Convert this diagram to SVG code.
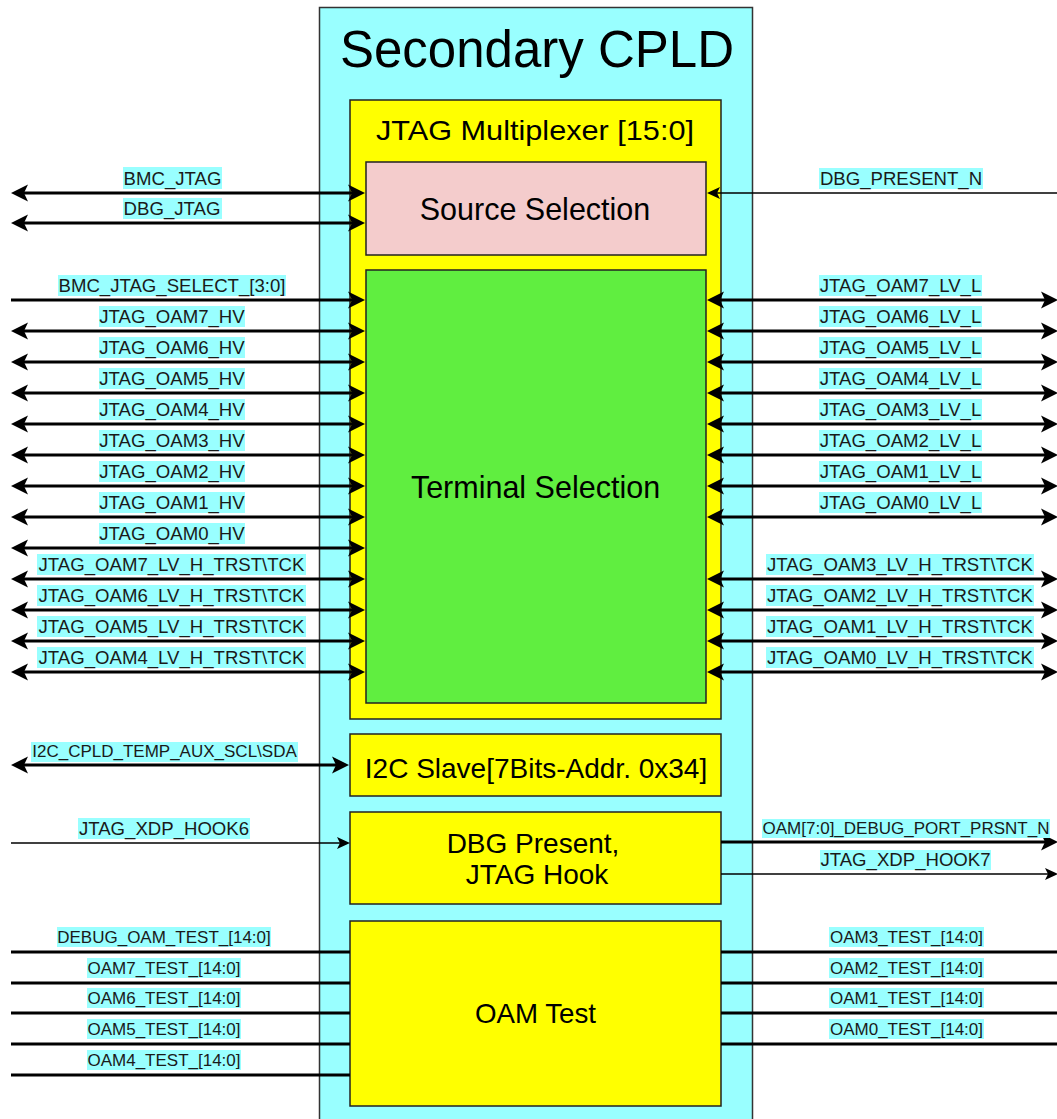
<svg xmlns="http://www.w3.org/2000/svg" width="1057" height="1119" viewBox="0 0 1057 1119">
<style>
.box{stroke:#222;stroke-width:1.5}
.cpld{fill:#99ffff;stroke:#333;stroke-width:1.5}
.yel{fill:#ffff00}
.pink{fill:#f4cccc}
.green{fill:#60ee40}
.nt{font-family:"Liberation Sans",Arial,sans-serif;fill:#000;text-anchor:middle}
.w3{stroke:#000;stroke-width:3;fill:none}
.w1{stroke:#000;stroke-width:1.5;fill:none}
.bg{fill:#99ffff}
.l18{font-family:"Liberation Sans",Arial,sans-serif;font-size:18.6px;fill:#1a1a1a;text-anchor:middle}
.l17{font-family:"Liberation Sans",Arial,sans-serif;font-size:17px;fill:#1a1a1a;text-anchor:middle}
.bi{marker-start:url(#ah);marker-end:url(#ah)}
.to{marker-end:url(#ah)}
.tos{marker-end:url(#as)}
</style>
<defs>
<marker id="ah" markerUnits="userSpaceOnUse" viewBox="0 0 17 17" markerWidth="17" markerHeight="17" refX="4" refY="8.5" orient="auto-start-reverse" overflow="visible"><path d="M17,8.5 L0,0 L4,8.5 L0,17 Z" fill="#000"/></marker>
<marker id="as" markerUnits="userSpaceOnUse" viewBox="0 0 13 12" markerWidth="13" markerHeight="12" refX="3" refY="6" orient="auto-start-reverse" overflow="visible"><path d="M13,6 L0,0 L3,6 L0,12 Z" fill="#000"/></marker>
</defs>
<g id="cpld">
<rect class="cpld" x="319.5" y="7.5" width="433" height="1125"/>
<text class="nt" x="537" y="67" font-size="51">Secondary CPLD</text>
</g>
<g id="jtag_mux">
<rect class="box yel" x="350" y="100" width="371" height="619"/>
<text class="nt" x="535" y="140" font-size="28" textLength="318" lengthAdjust="spacingAndGlyphs">JTAG Multiplexer [15:0]</text>
</g>
<g id="source_sel">
<rect class="box pink" x="366" y="162" width="340" height="93"/>
<text class="nt" x="535" y="220" font-size="30.5">Source Selection</text>
</g>
<g id="terminal_sel">
<rect class="box green" x="366" y="270" width="340" height="433"/>
<text class="nt" x="535.5" y="498" font-size="30.5">Terminal Selection</text>
</g>
<g id="i2c_slave">
<rect class="box yel" x="350" y="734" width="371" height="62"/>
<text class="nt" x="536" y="778" font-size="28">I2C Slave[7Bits-Addr. 0x34]</text>
</g>
<g id="dbg_present">
<rect class="box yel" x="350" y="812" width="371" height="92"/>
<text class="nt" x="533" y="853" font-size="28">DBG Present,</text>
<text class="nt" x="537" y="884" font-size="28">JTAG Hook</text>
</g>
<g id="oam_test">
<rect class="box yel" x="350" y="921" width="371" height="185"/>
<text class="nt" x="535.5" y="1023" font-size="27.7">OAM Test</text>
</g>
<g id="connectors">
<line class="w3 bi" x1="24" y1="193" x2="352" y2="193"/>
<line class="w3 bi" x1="24" y1="223" x2="352" y2="223"/>
<line class="w1 tos" x1="1057" y1="193" x2="717" y2="193"/>
<line class="w3 to" x1="11" y1="300" x2="352" y2="300"/>
<line class="w3 bi" x1="24" y1="331" x2="352" y2="331"/>
<line class="w3 bi" x1="24" y1="362" x2="352" y2="362"/>
<line class="w3 bi" x1="24" y1="393" x2="352" y2="393"/>
<line class="w3 bi" x1="24" y1="424" x2="352" y2="424"/>
<line class="w3 bi" x1="24" y1="455" x2="352" y2="455"/>
<line class="w3 bi" x1="24" y1="486" x2="352" y2="486"/>
<line class="w3 bi" x1="24" y1="517" x2="352" y2="517"/>
<line class="w3 bi" x1="24" y1="548" x2="352" y2="548"/>
<line class="w3 bi" x1="24" y1="579" x2="352" y2="579"/>
<line class="w3 bi" x1="24" y1="610" x2="352" y2="610"/>
<line class="w3 bi" x1="24" y1="641" x2="352" y2="641"/>
<line class="w3 bi" x1="24" y1="672" x2="352" y2="672"/>
<line class="w3 bi" x1="720" y1="300" x2="1045" y2="300"/>
<line class="w3 bi" x1="720" y1="331" x2="1045" y2="331"/>
<line class="w3 bi" x1="720" y1="362" x2="1045" y2="362"/>
<line class="w3 bi" x1="720" y1="393" x2="1045" y2="393"/>
<line class="w3 bi" x1="720" y1="424" x2="1045" y2="424"/>
<line class="w3 bi" x1="720" y1="455" x2="1045" y2="455"/>
<line class="w3 bi" x1="720" y1="486" x2="1045" y2="486"/>
<line class="w3 bi" x1="720" y1="517" x2="1045" y2="517"/>
<line class="w3 bi" x1="720" y1="579" x2="1045" y2="579"/>
<line class="w3 bi" x1="720" y1="610" x2="1045" y2="610"/>
<line class="w3 bi" x1="720" y1="641" x2="1045" y2="641"/>
<line class="w3 bi" x1="720" y1="672" x2="1045" y2="672"/>
<line class="w3 bi" x1="24" y1="765" x2="336" y2="765"/>
<line class="w1 tos" x1="11" y1="843" x2="340" y2="843"/>
<line class="w3 to" x1="721" y1="842" x2="1045" y2="842"/>
<line class="w1 tos" x1="721" y1="874" x2="1048" y2="874"/>
<line class="w3" x1="11" y1="952" x2="350" y2="952"/>
<line class="w3" x1="11" y1="983" x2="350" y2="983"/>
<line class="w3" x1="11" y1="1013" x2="350" y2="1013"/>
<line class="w3" x1="11" y1="1044" x2="350" y2="1044"/>
<line class="w3" x1="11" y1="1075" x2="350" y2="1075"/>
<line class="w3" x1="721" y1="952" x2="1057" y2="952"/>
<line class="w3" x1="721" y1="983" x2="1057" y2="983"/>
<line class="w3" x1="721" y1="1013" x2="1057" y2="1013"/>
<line class="w3" x1="721" y1="1044" x2="1057" y2="1044"/>
</g>
<g id="labels">
<rect class="bg" x="123" y="167" width="99" height="22"/><text class="l18" x="172.5" y="185">BMC_JTAG</text>
<rect class="bg" x="123" y="198" width="99" height="21"/><text class="l18" x="172" y="215">DBG_JTAG</text>
<rect class="bg" x="819" y="168" width="164" height="21"/><text class="l18" x="901" y="185">DBG_PRESENT_N</text>
<rect class="bg" x="58" y="275" width="228" height="21"/><text class="l18" x="172" y="292">BMC_JTAG_SELECT_[3:0]</text>
<rect class="bg" x="99" y="306" width="146" height="21"/><text class="l18" x="172" y="323">JTAG_OAM7_HV</text>
<rect class="bg" x="99" y="337" width="146" height="21"/><text class="l18" x="172" y="354">JTAG_OAM6_HV</text>
<rect class="bg" x="99" y="368" width="146" height="21"/><text class="l18" x="172" y="385">JTAG_OAM5_HV</text>
<rect class="bg" x="99" y="399" width="146" height="21"/><text class="l18" x="172" y="416">JTAG_OAM4_HV</text>
<rect class="bg" x="99" y="430" width="146" height="21"/><text class="l18" x="172" y="447">JTAG_OAM3_HV</text>
<rect class="bg" x="99" y="461" width="146" height="21"/><text class="l18" x="172" y="478">JTAG_OAM2_HV</text>
<rect class="bg" x="99" y="492" width="146" height="21"/><text class="l18" x="172" y="509">JTAG_OAM1_HV</text>
<rect class="bg" x="99" y="523" width="146" height="21"/><text class="l18" x="172" y="540">JTAG_OAM0_HV</text>
<rect class="bg" x="37" y="554" width="269" height="21"/><text class="l18" x="171.5" y="571">JTAG_OAM7_LV_H_TRST\TCK</text>
<rect class="bg" x="37" y="585" width="269" height="21"/><text class="l18" x="171.5" y="602">JTAG_OAM6_LV_H_TRST\TCK</text>
<rect class="bg" x="37" y="616" width="269" height="21"/><text class="l18" x="171.5" y="633">JTAG_OAM5_LV_H_TRST\TCK</text>
<rect class="bg" x="37" y="647" width="269" height="21"/><text class="l18" x="171.5" y="664">JTAG_OAM4_LV_H_TRST\TCK</text>
<rect class="bg" x="819" y="275" width="163" height="21"/><text class="l18" x="900.5" y="292">JTAG_OAM7_LV_L</text>
<rect class="bg" x="819" y="306" width="163" height="21"/><text class="l18" x="900.5" y="323">JTAG_OAM6_LV_L</text>
<rect class="bg" x="819" y="337" width="163" height="21"/><text class="l18" x="900.5" y="354">JTAG_OAM5_LV_L</text>
<rect class="bg" x="819" y="368" width="163" height="21"/><text class="l18" x="900.5" y="385">JTAG_OAM4_LV_L</text>
<rect class="bg" x="819" y="399" width="163" height="21"/><text class="l18" x="900.5" y="416">JTAG_OAM3_LV_L</text>
<rect class="bg" x="819" y="430" width="163" height="21"/><text class="l18" x="900.5" y="447">JTAG_OAM2_LV_L</text>
<rect class="bg" x="819" y="461" width="163" height="21"/><text class="l18" x="900.5" y="478">JTAG_OAM1_LV_L</text>
<rect class="bg" x="819" y="492" width="163" height="21"/><text class="l18" x="900.5" y="509">JTAG_OAM0_LV_L</text>
<rect class="bg" x="766" y="554" width="268" height="21"/><text class="l18" x="900" y="571">JTAG_OAM3_LV_H_TRST\TCK</text>
<rect class="bg" x="766" y="585" width="268" height="21"/><text class="l18" x="900" y="602">JTAG_OAM2_LV_H_TRST\TCK</text>
<rect class="bg" x="766" y="616" width="268" height="21"/><text class="l18" x="900" y="633">JTAG_OAM1_LV_H_TRST\TCK</text>
<rect class="bg" x="766" y="647" width="268" height="21"/><text class="l18" x="900" y="664">JTAG_OAM0_LV_H_TRST\TCK</text>
<rect class="bg" x="31" y="742" width="267" height="20"/><text class="l17" x="164.5" y="757">I2C_CPLD_TEMP_AUX_SCL\SDA</text>
<rect class="bg" x="78" y="818" width="172" height="21"/><text class="l18" x="164" y="835">JTAG_XDP_HOOK6</text>
<rect class="bg" x="762" y="819" width="288" height="19"/><text class="l17" x="906" y="834">OAM[7:0]_DEBUG_PORT_PRSNT_N</text>
<rect class="bg" x="820" y="850" width="171" height="20"/><text class="l18" x="905.5" y="866">JTAG_XDP_HOOK7</text>
<rect class="bg" x="57" y="927" width="214" height="20"/><text class="l17" x="164" y="943">DEBUG_OAM_TEST_[14:0]</text>
<rect class="bg" x="87" y="958" width="154" height="20"/><text class="l17" x="164" y="974">OAM7_TEST_[14:0]</text>
<rect class="bg" x="87" y="988" width="154" height="20"/><text class="l17" x="164" y="1004">OAM6_TEST_[14:0]</text>
<rect class="bg" x="87" y="1019" width="154" height="20"/><text class="l17" x="164" y="1035">OAM5_TEST_[14:0]</text>
<rect class="bg" x="87" y="1050" width="154" height="20"/><text class="l17" x="164" y="1066">OAM4_TEST_[14:0]</text>
<rect class="bg" x="829" y="927" width="155" height="20"/><text class="l17" x="906.5" y="943">OAM3_TEST_[14:0]</text>
<rect class="bg" x="829" y="958" width="155" height="20"/><text class="l17" x="906.5" y="974">OAM2_TEST_[14:0]</text>
<rect class="bg" x="829" y="988" width="155" height="20"/><text class="l17" x="906.5" y="1004">OAM1_TEST_[14:0]</text>
<rect class="bg" x="829" y="1019" width="155" height="20"/><text class="l17" x="906.5" y="1035">OAM0_TEST_[14:0]</text>
</g>
</svg>
